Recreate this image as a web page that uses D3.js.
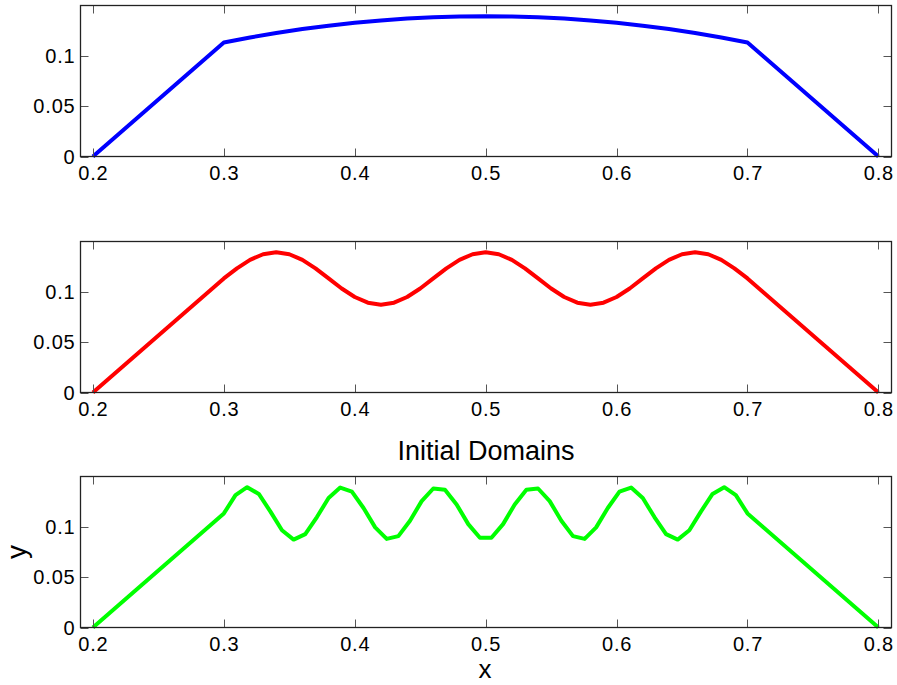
<!DOCTYPE html>
<html>
<head>
<meta charset="utf-8">
<script src="https://cdn.jsdelivr.net/npm/d3@7"></script>
<style>
  body { margin: 0; background: #fff; }
  text { font-family: "Liberation Sans", Arial, Helvetica, sans-serif; fill: #000; }
</style>
</head>
<body>
<svg id="svg" width="897" height="685"></svg>
<script>
// tick values and labels shared by the three panels
const xTicks = [0.2, 0.3, 0.4, 0.5, 0.6, 0.7, 0.8];
const xTickLabels = ["0.2", "0.3", "0.4", "0.5", "0.6", "0.7", "0.8"];
const yTicks = [0, 0.05, 0.1];
const yTickLabels = ["0", "0.05", "0.1"];

// top panel (blue)
const blueX = [0.2, 0.3, 0.32, 0.34, 0.36, 0.38, 0.4, 0.42, 0.44, 0.46, 0.48, 0.5,
  0.52, 0.54, 0.56, 0.58, 0.6, 0.62, 0.64, 0.66, 0.68, 0.7, 0.8];
const blueY = [0, 0.1130, 0.1179, 0.1224, 0.1263, 0.1296, 0.1325, 0.1348, 0.1367, 0.1380, 0.1387, 0.1390,
  0.1387, 0.1380, 0.1367, 0.1348, 0.1325, 0.1296, 0.1263, 0.1224, 0.1179, 0.1130, 0];

// middle panel (red)
const redX = [0.2, 0.3, 0.31, 0.32, 0.33, 0.34, 0.35, 0.36, 0.37, 0.38, 0.39, 0.4,
  0.41, 0.42, 0.43, 0.44, 0.45, 0.46, 0.47, 0.48, 0.49, 0.5,
  0.51, 0.52, 0.53, 0.54, 0.55, 0.56, 0.57, 0.58, 0.59, 0.6,
  0.61, 0.62, 0.63, 0.64, 0.65, 0.66, 0.67, 0.68, 0.69, 0.7, 0.8];
const redY = [0, 0.1130, 0.1230, 0.1314, 0.1370, 0.1390, 0.1370, 0.1314, 0.1230, 0.1130, 0.1030, 0.0946,
  0.0890, 0.0870, 0.0890, 0.0946, 0.1030, 0.1130, 0.1230, 0.1314, 0.1370, 0.1390,
  0.1370, 0.1314, 0.1230, 0.1130, 0.1030, 0.0946, 0.0890, 0.0870, 0.0890, 0.0946,
  0.1030, 0.1130, 0.1230, 0.1314, 0.1370, 0.1390, 0.1370, 0.1314, 0.1230, 0.1130, 0];

// bottom panel (green), vertices
const greenX = [0.2, 0.3000, 0.3089, 0.3178, 0.3267, 0.3356, 0.3444, 0.3533, 0.3622, 0.3711, 0.3800,
  0.3889, 0.3978, 0.4067, 0.4156, 0.4244, 0.4333, 0.4422, 0.4511, 0.4600, 0.4689,
  0.4778, 0.4867, 0.4956, 0.5044, 0.5133, 0.5222, 0.5311, 0.5400, 0.5489, 0.5578,
  0.5667, 0.5756, 0.5844, 0.5933, 0.6022, 0.6111, 0.6200, 0.6289, 0.6378, 0.6467,
  0.6556, 0.6644, 0.6733, 0.6822, 0.6911, 0.7000, 0.8];
const greenY = [0, 0.1130, 0.1311, 0.1390, 0.1323, 0.1148, 0.0963, 0.0871, 0.0925, 0.1094, 0.1283,
  0.1386, 0.1346, 0.1184, 0.0992, 0.0878, 0.0905, 0.1058, 0.1252, 0.1377, 0.1364,
  0.1219, 0.1024, 0.0889, 0.0889, 0.1024, 0.1219, 0.1364, 0.1377, 0.1252, 0.1058,
  0.0905, 0.0878, 0.0992, 0.1184, 0.1346, 0.1386, 0.1283, 0.1094, 0.0925, 0.0871,
  0.0963, 0.1148, 0.1323, 0.1390, 0.1311, 0.1130, 0];

let svg = d3.select("#svg");

let left = 80.5, right = 891.5, panelH = 151;
let panels = [
  { top: 5.5, xs: blueX, ys: blueY, color: "#0000ff" },
  { top: 241.5, xs: redX, ys: redY, color: "#ff0000" },
  { top: 476.5, xs: greenX, ys: greenY, color: "#00ff00" },
];

let x = d3.scaleLinear().domain([0.1905, 0.81]).range([left, right]);

panels.forEach((p, idx) => {
  let y = d3.scaleLinear().domain([0, 0.1496]).range([p.top + panelH, p.top]);
  let g = svg.append("g");

  // data line, clipped to the axes box
  let clipId = "clip" + idx;
  svg.append("clipPath").attr("id", clipId)
    .append("rect")
    .attr("x", left).attr("y", p.top - 3)
    .attr("width", right - left).attr("height", panelH + 6);

  let line = d3.line()
    .x((d) => x(d[0]))
    .y((d) => y(d[1]));

  g.append("path")
    .datum(p.xs.map((v, i) => [v, p.ys[i]]))
    .attr("d", line)
    .attr("clip-path", "url(#" + clipId + ")")
    .style("fill", "none")
    .style("stroke", p.color)
    .style("stroke-width", 4)
    .style("stroke-linejoin", "round");

  // inward ticks on all four sides (matlab box style)
  let tickLen = 8;
  xTicks.forEach((t) => {
    let tx = Math.round(x(t)) + 0.5;
    g.append("line").attr("x1", tx).attr("x2", tx)
      .attr("y1", p.top + panelH).attr("y2", p.top + panelH - tickLen)
      .style("stroke", "#555").style("stroke-width", 1);
    g.append("line").attr("x1", tx).attr("x2", tx)
      .attr("y1", p.top).attr("y2", p.top + tickLen)
      .style("stroke", "#555").style("stroke-width", 1);
  });
  yTicks.forEach((t) => {
    let ty = Math.round(y(t)) + 0.5;
    g.append("line").attr("x1", left).attr("x2", left + tickLen)
      .attr("y1", ty).attr("y2", ty)
      .style("stroke", "#555").style("stroke-width", 1);
    g.append("line").attr("x1", right).attr("x2", right - tickLen)
      .attr("y1", ty).attr("y2", ty)
      .style("stroke", "#555").style("stroke-width", 1);
  });

  // axes box
  g.append("rect")
    .attr("x", left).attr("y", p.top)
    .attr("width", right - left).attr("height", panelH)
    .style("fill", "none")
    .style("stroke", "#222")
    .style("stroke-width", 1.3);

  // tick labels
  g.selectAll(".xl")
    .data(xTicks)
    .enter()
    .append("text")
    .attr("x", (d) => x(d) + 0.5)
    .attr("y", p.top + panelH + 23)
    .attr("text-anchor", "middle")
    .style("font-size", "20px")
    .style("letter-spacing", "0.8px")
    .text((d, i) => xTickLabels[i]);

  g.selectAll(".yl")
    .data(yTicks)
    .enter()
    .append("text")
    .attr("x", left - 5)
    .attr("y", (d) => y(d))
    .attr("dy", "0.36em")
    .attr("text-anchor", "end")
    .style("font-size", "20px")
    .style("letter-spacing", "0.8px")
    .text((d, i) => yTickLabels[i]);
});

// title and axis labels of the last panel
svg.append("text")
  .attr("x", (left + right) / 2)
  .attr("y", 460)
  .attr("text-anchor", "middle")
  .style("font-size", "27px")
  .text("Initial Domains");

svg.append("text")
  .attr("x", (left + right) / 2 - 1)
  .attr("y", 678)
  .attr("text-anchor", "middle")
  .style("font-size", "26px")
  .text("x");

svg.append("text")
  .attr("transform", "translate(26," + (476.5 + panelH / 2) + ") rotate(-90)")
  .attr("text-anchor", "middle")
  .style("font-size", "28px")
  .text("y");
</script>
</body>
</html>
